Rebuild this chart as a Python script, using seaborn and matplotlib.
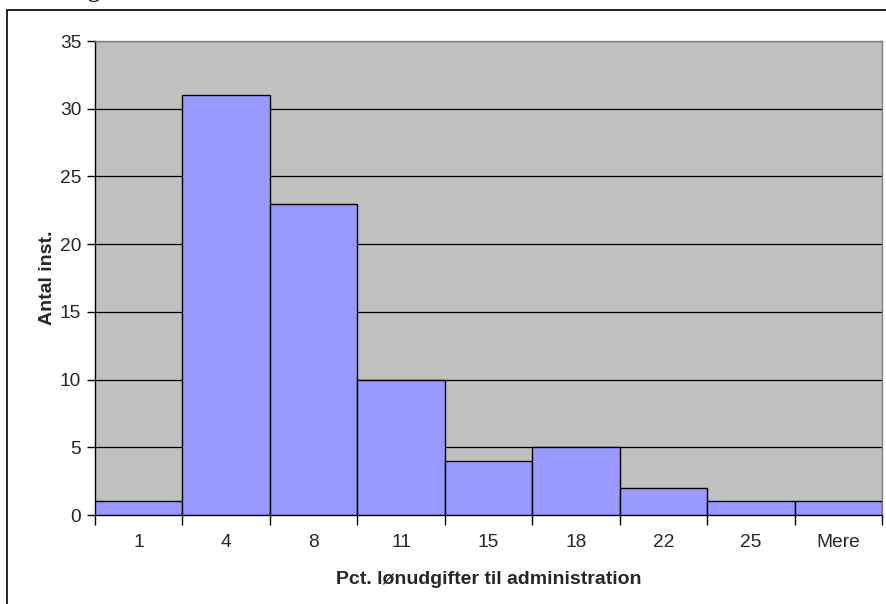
import matplotlib
matplotlib.use('Agg')
import matplotlib.pyplot as plt
import seaborn as sns
import pandas as pd
import numpy as np
from matplotlib.patches import Rectangle

# Data
bins = ['1', '4', '8', '11', '15', '18', '22', '25', 'Mere']
counts = [1, 31, 23, 10, 4, 5, 2, 1, 1]

df = pd.DataFrame({'bin': bins, 'antal': counts})

sns.set_style('white')
plt.rcParams['font.family'] = ['Liberation Sans', 'DejaVu Sans']

W, H = 887, 604
fig = plt.figure(figsize=(W / 100, H / 100), dpi=100)
ax = fig.add_axes([95 / W, 1 - 515 / H, (882 - 95) / W, (515 - 41) / H])

# outer chart frame
fig.patches.append(Rectangle((7 / W, -0.01), 1.0, 1 - 10 / H + 0.01,
                             transform=fig.transFigure, fill=False,
                             edgecolor='black', linewidth=1.2))
# title, mostly cropped above the picture
fig.text(68 / W, 1 + 3 / H, 'Figur', fontsize=17, fontweight='bold',
         family='Liberation Serif', va='baseline', ha='left')

ax.set_facecolor('#C0C0C0')
sns.barplot(data=df, x='bin', y='antal', color='#9999FF', width=1.0,
            edgecolor='black', linewidth=1.0, saturation=1, ax=ax, zorder=3)

ax.set_ylim(0, 35)
ax.set_xlim(-0.5, len(bins) - 0.5)
ax.set_yticks(np.arange(0, 36, 5))
ax.yaxis.grid(True, color='black', linewidth=0.9, zorder=1)
ax.set_axisbelow(True)

ax.set_xticks(np.arange(len(bins)))
ax.set_xticklabels(bins)
ax.set_xticks(np.arange(-0.5, len(bins), 1), minor=True)
ax.tick_params(axis='x', which='major', length=0, pad=14, labelsize=13.8)
ax.tick_params(axis='x', which='minor', length=7, width=1, color='black',
               direction='out', bottom=True)
ax.tick_params(axis='y', length=6, width=1, color='black', direction='out',
               left=True, labelsize=13.8, pad=4)

for s in ['left', 'bottom']:
    ax.spines[s].set_color('black')
    ax.spines[s].set_linewidth(1)
for s in ['top', 'right']:
    ax.spines[s].set_color('#808080')
    ax.spines[s].set_linewidth(1)

ax.set_xlabel('Pct. lønudgifter til administration', fontsize=14,
              fontweight='bold', labelpad=14)
ax.set_ylabel('Antal inst.', fontsize=14, fontweight='bold', labelpad=3)

fig.savefig('out.png', dpi=100)
